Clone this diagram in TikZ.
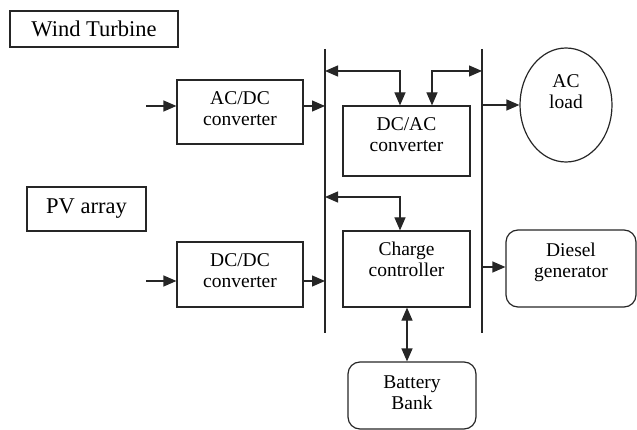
\documentclass[tikz,border=0pt]{standalone}
\usepackage{fontspec}
\setmainfont{Liberation Serif}
\usetikzlibrary{arrows.meta,shapes.geometric}
\begin{document}
\begin{tikzpicture}[x=1pt,y=-1pt,
  ln/.style={line width=1.2pt,draw=black!85},
  box/.style={ln,rectangle,inner sep=0pt},
  rbox/.style={ln,rectangle,rounded corners=12pt,inner sep=0pt},
  txt/.style={font=\fontsize{19.5}{21}\selectfont,align=center,inner sep=0pt},
  bigtxt/.style={font=\fontsize{22.5}{24}\selectfont,align=center},
  arr/.style={ln,-{Triangle[length=13pt,width=11pt]}},
  darr/.style={ln,{Triangle[length=13pt,width=11pt]}-{Triangle[length=13pt,width=11pt]}}]
\useasboundingbox (0,0) rectangle (637,430);
% boxes
\node[box,minimum width=168pt,minimum height=36pt,bigtxt] (wt) at (94,29) {Wind Turbine};
\node[box,minimum width=119pt,minimum height=44pt,bigtxt] (pv) at (86.5,209) {PV array};
\node[box,minimum width=126pt,minimum height=64pt] (acdc) at (240,112) {};
\node[box,minimum width=126pt,minimum height=65pt] (dcdc) at (240,274.5) {};
\node[box,minimum width=127pt,minimum height=70pt] (dcac) at (406.5,141) {};
\node[box,minimum width=127pt,minimum height=76pt] (cc) at (406.5,269) {};
\node[ln,ellipse,minimum width=92pt,minimum height=114pt,inner sep=0pt] (acl) at (566,105) {};
\node[rbox,minimum width=130pt,minimum height=77pt] (dg) at (571,268.5) {};
\node[rbox,minimum width=128pt,minimum height=67pt] (bb) at (412,395.5) {};
% texts
\node[txt] (tacdc) at (240,108.5) {AC/DC\\converter};
\node[txt] (tdcdc) at (240,270.5) {DC/DC\\converter};
\node[txt] (tdcac) at (406.5,134.5) {DC/AC\\converter};
\node[txt] (tcc) at (406.5,259) {Charge\\controller};
\node[txt] (tacl) at (566,91.5) {AC\\load};
\node[txt] (tdg) at (571,262) {Diesel\\generator};
\node[txt] (tbb) at (412,392.5) {Battery\\Bank};
% buses
\coordinate (lbt) at (325,49);
\coordinate (lbb) at (325,333);
\coordinate (rbt) at (482,49);
\coordinate (rbb) at (482,333);
\draw[ln] (lbt) -- (lbb);
\draw[ln] (rbt) -- (rbb);
% inputs
\coordinate (inA) at (146,106);
\coordinate (inD) at (146,281);
\draw[arr] (inA) -- (inA -| acdc.west);
\draw[arr] (inA -| acdc.east) -- (inA -| lbt);
\draw[arr] (inD) -- (inD -| dcdc.west);
\draw[arr] (inD -| dcdc.east) -- (inD -| lbt);
% dc/ac links
\coordinate (k1) at (400,71);
\coordinate (k2) at (432,71);
\draw[darr] (k1 -| lbt) -- (k1) -- (k1 |- dcac.north);
\draw[darr] (k2 |- dcac.north) -- (k2) -- (k2 -| rbt);
% charge controller link
\coordinate (k3) at (400,197);
\draw[darr] (k3 -| lbt) -- (k3) -- (k3 |- cc.north);
% outputs
\draw[arr] (acl.west -| rbt) -- (acl.west);
\coordinate (k4) at (482,267);
\draw[arr] (k4) -- (k4 -| dg.west);
% battery
\coordinate (k5) at (407,307);
\draw[darr] (k5 |- cc.south) -- (k5 |- bb.north);
\end{tikzpicture}
\end{document}
